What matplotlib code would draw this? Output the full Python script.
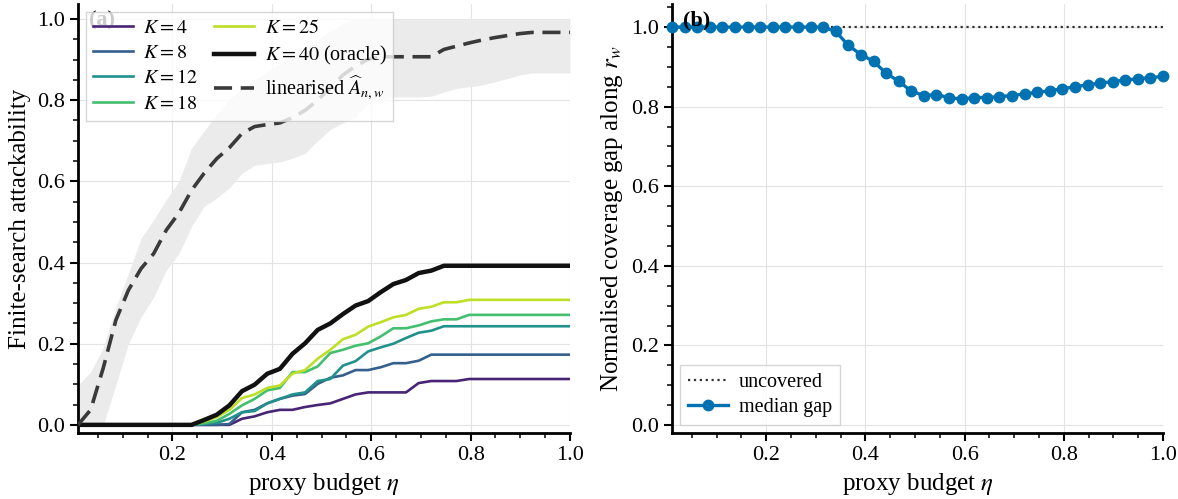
import numpy as np
import matplotlib
matplotlib.use("Agg")
import matplotlib.pyplot as plt
from matplotlib.ticker import MultipleLocator

plt.rcParams['font.family'] = ['Liberation Serif', 'DejaVu Serif']
plt.rcParams['mathtext.fontset'] = 'stix'

# ---------------- data ----------------
eta = np.round(np.linspace(0.01, 1.0, 40), 4)

K_labels = ["$K=4$", "$K=8$", "$K=12$", "$K=18$", "$K=25$"]
K4 = [0]*13 + [0.015, 0.021, 0.031, 0.037, 0.037, 0.044, 0.049, 0.053, 0.064, 0.075,
               0.080, 0.080, 0.080, 0.080, 0.103, 0.108, 0.108, 0.108, 0.113] + [0.113]*8
K8 = [0]*12 + [0.002, 0.031, 0.037, 0.053, 0.064, 0.072, 0.076, 0.101, 0.116, 0.122,
               0.135, 0.135, 0.142, 0.152, 0.152, 0.158, 0.173] + [0.173]*11
K12 = [0]*10 + [0.002, 0.005, 0.015, 0.031, 0.034, 0.053, 0.064, 0.075, 0.080, 0.108,
                0.113, 0.146, 0.157, 0.181, 0.191, 0.200, 0.214, 0.227, 0.232, 0.243] + [0.243]*10
K18 = [0]*10 + [0.004, 0.010, 0.027, 0.048, 0.064, 0.085, 0.091, 0.130, 0.130, 0.144,
                0.177, 0.185, 0.195, 0.201, 0.218, 0.238, 0.238, 0.245, 0.255, 0.260,
                0.260, 0.271] + [0.271]*8
K25 = [0]*10 + [0.008, 0.019, 0.037, 0.066, 0.075, 0.091, 0.097, 0.126, 0.135, 0.163,
                0.185, 0.211, 0.222, 0.242, 0.253, 0.265, 0.271, 0.286, 0.291, 0.302,
                0.302, 0.308] + [0.308]*8
K40 = [0]*10 + [0.012, 0.025, 0.048, 0.083, 0.099, 0.126, 0.138, 0.175, 0.201, 0.234,
                0.250, 0.273, 0.294, 0.305, 0.327, 0.347, 0.357, 0.374, 0.380, 0.392] + [0.392]*10

lin_mean = [0, 0.037, 0.14, 0.258, 0.332, 0.385, 0.422, 0.48, 0.522, 0.578,
            0.62, 0.656, 0.683, 0.718, 0.735, 0.740, 0.744, 0.757, 0.775, 0.80,
            0.831, 0.862, 0.884, 0.901, 0.907, 0.907, 0.907, 0.907, 0.907, 0.925,
            0.933, 0.941, 0.948, 0.954, 0.959, 0.964, 0.967, 0.967, 0.967, 0.967]
lin_hi = [0.098, 0.13, 0.19, 0.29, 0.373, 0.46, 0.505, 0.555, 0.60, 0.682,
          0.724, 0.765, 0.802, 0.83, 0.85, 0.87, 0.89, 0.91, 0.93, 0.95,
          0.97, 0.99] + [1.0]*18
lin_lo = [0, 0, 0.0, 0.098, 0.2, 0.266, 0.315, 0.381, 0.422, 0.489,
          0.538, 0.559, 0.584, 0.62, 0.64, 0.644, 0.648, 0.657, 0.669, 0.70,
          0.728, 0.744, 0.76, 0.79, 0.80, 0.808, 0.808, 0.808, 0.81, 0.82,
          0.829, 0.833, 0.837, 0.845, 0.853, 0.862, 0.867, 0.867, 0.867, 0.867]

median_gap = [1.0]*13 + [0.989, 0.954, 0.931, 0.914, 0.884, 0.864, 0.839, 0.828, 0.830, 0.823,
                         0.819, 0.823, 0.823, 0.825, 0.828, 0.832, 0.836, 0.840, 0.845, 0.850,
                         0.855, 0.859, 0.863, 0.867, 0.870, 0.873, 0.876]
uncovered_level = 1.0

# ---------------- figure ----------------
fig = plt.figure(figsize=(11.78, 4.99), dpi=100)
axL = fig.add_axes([0.0662, 0.1323, 0.4177, 0.8597])
axR = fig.add_axes([0.5705, 0.1323, 0.4168, 0.8597])

TICK_FS = 16
LAB_FS = 18
LEG_FS = 14.5

def style(ax):
    for s in ['top', 'right']:
        ax.spines[s].set_visible(False)
    for s in ['left', 'bottom']:
        ax.spines[s].set_linewidth(2.0)
    ax.xaxis.set_major_locator(MultipleLocator(0.2))
    ax.xaxis.set_minor_locator(MultipleLocator(0.05))
    ax.yaxis.set_major_locator(MultipleLocator(0.2))
    ax.yaxis.set_minor_locator(MultipleLocator(0.05))
    ax.tick_params(which='major', length=6, width=1.5, labelsize=TICK_FS, direction='out')
    ax.tick_params(which='minor', length=3.5, width=1.1, direction='out')
    ax.grid(True, which='major', color='#e3e3e3', lw=0.8)
    ax.set_axisbelow(True)
    ax.set_xlim(0.01, 1.0)
    ax.set_xlabel(r"proxy budget $\eta$", fontsize=LAB_FS, labelpad=4)

# left panel
style(axL)
axL.set_ylim(-0.02, 1.037)
axL.fill_between(eta, lin_lo, lin_hi, color='#ebebeb', lw=0, zorder=1)
cols = plt.cm.viridis(np.linspace(0.1, 0.9, 5))
for lab, ys, c in zip(K_labels, [K4, K8, K12, K18, K25], cols):
    axL.plot(eta, ys, color=c, lw=1.9, label=lab, zorder=3)
axL.plot(eta, K40, color='#111111', lw=3.2, label="$K=40$ (oracle)", zorder=4)
axL.plot(eta, lin_mean, color='#3a3a3a', lw=2.6, ls=(0, (5, 2.4)),
         label=r"linearised $\widehat{A}_{n,w}$", zorder=4)
axL.text(0.022, 0.962, "(a)", transform=axL.transAxes, fontsize=16,
         fontweight='bold', ha='left', va='center', zorder=2)
axL.set_ylabel("Finite-search attackability", fontsize=LAB_FS)
legL = axL.legend(loc='upper left', ncol=2, fontsize=LEG_FS, frameon=True,
                  fancybox=False, framealpha=0.8, edgecolor='#cccccc',
                  borderaxespad=0.4, columnspacing=0.8, handletextpad=0.5,
                  labelspacing=0.3, borderpad=0.35)
legL.set_zorder(10)

# right panel
style(axR)
axR.set_ylim(-0.02, 1.058)
axR.plot(eta, [uncovered_level]*len(eta), ls=':', color='#333333', lw=1.6,
         label='uncovered', zorder=2)
axR.plot(eta, median_gap, color='#0072B2', lw=2.4, marker='o', ms=7.5,
         label='median gap', zorder=3, clip_on=False)
axR.text(0.022, 0.962, "(b)", transform=axR.transAxes, fontsize=16,
         fontweight='bold', ha='left', va='center', zorder=5)
axR.set_ylabel(r"Normalised coverage gap along $r_w$", fontsize=LAB_FS)
axR.legend(loc='lower left', fontsize=LEG_FS, frameon=True, fancybox=False,
           framealpha=0.8, edgecolor='#cccccc', borderaxespad=0.4,
           handletextpad=0.5, labelspacing=0.3)

fig.savefig("out.png", dpi=100)
